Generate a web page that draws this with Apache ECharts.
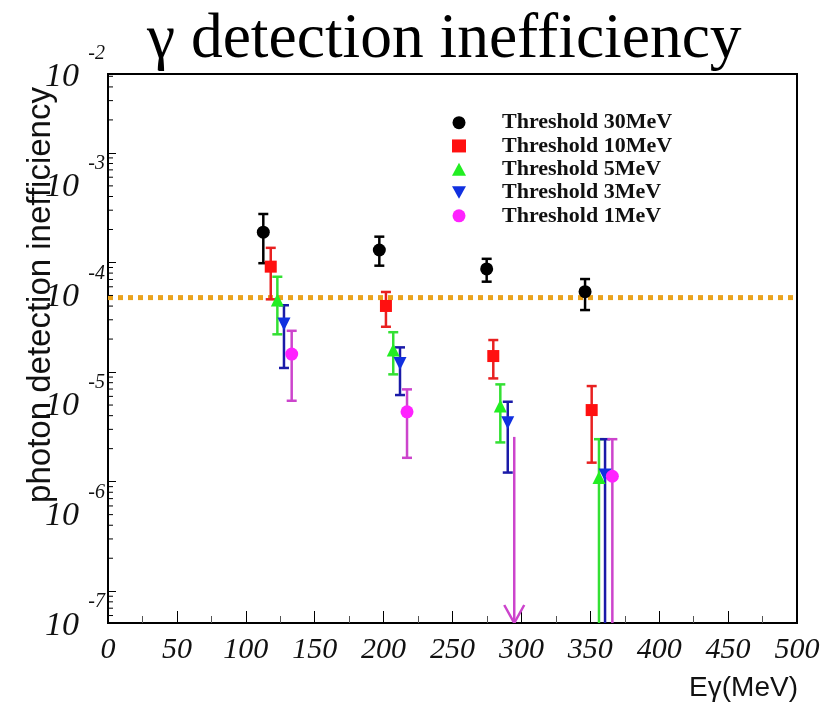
<!DOCTYPE html>
<html>
<head>
<meta charset="utf-8">
<title>γ detection inefficiency</title>
<script src="https://cdn.jsdelivr.net/npm/echarts@6/dist/echarts.min.js"></script>
<style>
  html, body { margin: 0; padding: 0; background: #fff; }
  #chart { width: 824px; height: 714px; }
</style>
</head>
<body>
<div id="chart"></div>
<script>
// legend names
const thresholds = ['Threshold 30MeV', 'Threshold 10MeV', 'Threshold 5MeV', 'Threshold 3MeV', 'Threshold 1MeV']

// photon energy (MeV), measured inefficiency, error bar top / bottom (null = down to axis)
const e30 = [112.7, 196.9, 274.8, 346.2]
const v30 = [1.89e-4, 1.30e-4, 8.73e-5, 5.41e-5]
const hi30 = [2.77e-4, 1.72e-4, 1.08e-4, 7.06e-5]
const lo30 = [9.85e-5, 9.35e-5, 6.68e-5, 3.68e-5]

const e10 = [118.1, 201.7, 279.6, 351.0]
const v10 = [9.16e-5, 4.01e-5, 1.40e-5, 4.50e-6]
const hi10 = [1.36e-4, 5.38e-5, 1.96e-5, 7.45e-6]
const lo10 = [4.61e-5, 2.59e-5, 8.75e-6, 1.49e-6]

const e5 = [122.9, 207.0, 284.7, 356.3]
const v5 = [4.55e-5, 1.59e-5, 4.89e-6, 1.09e-6]
const hi5 = [7.41e-5, 2.31e-5, 7.72e-6, 2.44e-6]
const lo5 = [2.21e-5, 9.53e-6, 2.28e-6, null]

const e3 = [127.7, 211.9, 290.1, 360.7]
const v3 = [2.74e-5, 1.20e-5, 3.44e-6, 1.15e-6]
const hi3 = [4.07e-5, 1.68e-5, 5.36e-6, 2.44e-6]
const lo3 = [1.09e-5, 6.17e-6, 1.21e-6, null]

const e1 = [133.3, 217.0, 366.0]
const v1 = [1.46e-5, 4.34e-6, 1.12e-6]
const hi1 = [2.38e-5, 6.95e-6, 2.44e-6]
const lo1 = [5.47e-6, 1.65e-6, null]
// 1 MeV at ~295 MeV: upper limit only
const limitE1 = [294.8]
const limitV1 = [2.56e-6]

// requirement line
const requirement = 4.78e-5

// axis ticks
const xTicks = { min: 0, max: 500, step: 50 }
const yMinExp = -7.29
const yMaxExp = -2.28
const minorDecades = [-8, -7, -6, -5, -4, -3]
const minorMultipliers = [2, 3, 4, 5, 6, 7, 8, 9]

const markerColors = ['#000000', '#ff1010', '#22ee22', '#1030e0', '#ff22ff']
const barColors = ['#000000', '#e82020', '#33e033', '#1a1aa8', '#cc44cc']
const symbols = ['circle', 'rect', 'triangle', 'path://M0,0 L10,0 L5,9 Z', 'circle']

const energies = [e30, e10, e5, e3, e1]
const values = [v30, v10, v5, v3, v1]
const highs = [hi30, hi10, hi5, hi3, hi1]
const lows = [lo30, lo10, lo5, lo3, lo1]

const chart = echarts.init(document.getElementById('chart'))

const makeErrorBar = (color) => (params, api) => {
  const x = api.value(0)
  const hiVal = api.value(2)
  const loVal = api.value(1)
  const cs = params.coordSys
  const top = api.coord([x, hiVal])
  const bottomY = isNaN(loVal) ? cs.y + cs.height + 5 : api.coord([x, loVal])[1]
  const style = { stroke: color, lineWidth: 2.5 }
  const children = [
    { type: 'line', shape: { x1: top[0], y1: top[1], x2: top[0], y2: bottomY }, style },
    { type: 'line', shape: { x1: top[0] - 5, y1: top[1], x2: top[0] + 5, y2: top[1] }, style },
  ]
  if (!isNaN(loVal)) {
    children.push({ type: 'line', shape: { x1: top[0] - 5, y1: bottomY, x2: top[0] + 5, y2: bottomY }, style })
  }
  return { type: 'group', children }
}

const renderLimit = (params, api) => {
  const p = api.coord([api.value(0), api.value(1)])
  const cs = params.coordSys
  const bottom = cs.y + cs.height
  const style = { stroke: barColors[4], lineWidth: 2.5, fill: null }
  return {
    type: 'group',
    children: [
      { type: 'line', shape: { x1: p[0], y1: p[1], x2: p[0], y2: bottom }, style },
      { type: 'polyline', shape: { points: [[p[0] - 10, bottom - 18], [p[0], bottom], [p[0] + 10, bottom - 18]] }, style },
    ],
  }
}

const renderMinorTick = (params, api) => {
  const p = api.coord([0, api.value(1)])
  const cs = params.coordSys
  return {
    type: 'line',
    shape: { x1: cs.x, y1: p[1], x2: cs.x + 5, y2: p[1] },
    style: { stroke: '#000', lineWidth: 1 },
  }
}

const minorTickData = []
minorDecades.forEach(d => {
  minorMultipliers.forEach(m => minorTickData.push([0, m * Math.pow(10, d)]))
})

const yRich = {
  e: { fontFamily: 'Liberation Serif', fontStyle: 'italic', fontSize: 20, lineHeight: 22, color: '#111', align: 'right' },
  b: { fontFamily: 'Liberation Serif', fontStyle: 'italic', fontSize: 34, lineHeight: 25, color: '#111', align: 'right' },
  s: { width: 26, fontSize: 10, align: 'right' },
}

const series = []

// dotted requirement line across the whole energy range
series.push({
  name: 'requirement',
  type: 'line',
  symbol: 'none',
  silent: true,
  z: 1,
  lineStyle: { color: '#e9a21c', width: 5, type: [5, 5] },
  data: [[xTicks.min, requirement], [xTicks.max, requirement]],
})

thresholds.forEach((name, i) => {
  series.push({
    name: name + ' err',
    type: 'custom',
    renderItem: makeErrorBar(barColors[i]),
    clip: true,
    z: 2,
    encode: { x: 0, y: [1, 2] },
    data: energies[i].map((x, k) => [x, lows[i][k] === null ? '-' : lows[i][k], highs[i][k]]),
  })
  series.push({
    name,
    type: 'scatter',
    symbol: symbols[i],
    symbolSize: i === 1 ? 12 : 13,
    itemStyle: { color: markerColors[i], opacity: 1 },
    z: 3,
    data: energies[i].map((x, k) => [x, values[i][k]]),
  })
})

series.push({
  name: 'limit 1MeV',
  type: 'custom',
  renderItem: renderLimit,
  clip: true,
  z: 2,
  data: limitE1.map((x, k) => [x, limitV1[k]]),
})

series.push({
  name: 'minor ticks',
  type: 'custom',
  renderItem: renderMinorTick,
  clip: true,
  silent: true,
  z: 4,
  data: minorTickData,
})

const option = {
  backgroundColor: '#ffffff',
  animation: false,
  title: {
    text: 'γ detection inefficiency',
    left: 147,
    top: 5,
    padding: 0,
    textStyle: {
      fontFamily: 'Liberation Serif',
      fontWeight: 'normal',
      fontSize: 63.5,
      lineHeight: 70,
      color: '#000',
    },
  },
  legend: {
    data: thresholds.map((name, i) => ({ name, icon: symbols[i] })),
    orient: 'vertical',
    left: 447,
    top: 106,
    itemWidth: 14,
    itemHeight: 13,
    itemGap: 0,
    selectedMode: false,
    textStyle: {
      fontFamily: 'Liberation Serif',
      fontWeight: 'bold',
      fontSize: 22,
      lineHeight: 23.3,
      color: '#111',
      padding: [0, 0, 0, 31],
    },
  },
  grid: {
    left: 108,
    right: 27,
    top: 74,
    bottom: 91,
    show: true,
    borderColor: '#000',
    borderWidth: 2,
    backgroundColor: '#fff',
  },
  xAxis: {
    type: 'value',
    min: xTicks.min,
    max: xTicks.max,
    interval: xTicks.step,
    axisLine: { show: true, lineStyle: { color: '#000', width: 2 } },
    axisTick: { show: true, inside: true, length: 12, lineStyle: { color: '#000' } },
    minorTick: { show: true, splitNumber: 2, length: 7, lineStyle: { color: '#555' } },
    splitLine: { show: false },
    axisLabel: {
      fontFamily: 'Liberation Serif',
      fontStyle: 'italic',
      fontSize: 30,
      color: '#111',
      margin: 12,
    },
  },
  yAxis: {
    type: 'log',
    min: Math.pow(10, yMinExp),
    max: Math.pow(10, yMaxExp),
    name: '{e|-2}\n{b|10}{s| }',
    nameLocation: 'end',
    nameGap: 31,
    nameTextStyle: { align: 'right', verticalAlign: 'top', padding: [0, 3, 0, 0], rich: yRich },
    axisLine: { show: true, lineStyle: { color: '#000', width: 2 } },
    axisTick: { show: true, inside: true, length: 8, lineStyle: { color: '#000' } },
    splitLine: { show: false },
    axisLabel: {
      margin: 3,
      verticalAlign: 'top',
      rich: yRich,
      showMinLabel: false,
      showMaxLabel: false,
      formatter: (value) => {
        const exp = Math.log10(value)
        if (Math.abs(exp - Math.round(exp)) > 1e-6) return ''
        return '{e|' + Math.round(exp) + '}\n{b|10}{s| }'
      },
    },
  },
  graphic: [
    {
      type: 'text',
      x: 41,
      y: 295,
      rotation: Math.PI / 2,
      style: {
        text: 'photon detection inefficiency',
        font: '33px "Liberation Sans"',
        fill: '#111',
        textAlign: 'center',
        textVerticalAlign: 'middle',
      },
    },
    {
      type: 'text',
      right: 26,
      top: 674,
      style: {
        text: 'Eγ(MeV)',
        font: '28px "Liberation Sans"',
        fill: '#111',
      },
    },
  ],
  series,
}

chart.setOption(option)
</script>
</body>
</html>
